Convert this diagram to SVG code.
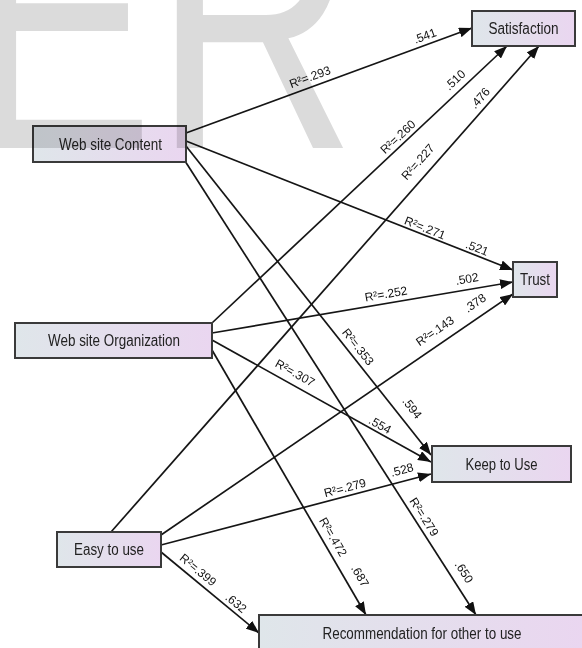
<svg xmlns="http://www.w3.org/2000/svg" width="582" height="648" viewBox="0 0 582 648">
<defs>
<linearGradient id="boxfill" x1="0" y1="0" x2="1" y2="0">
<stop offset="0" stop-color="#dfe6ea"/>
<stop offset="1" stop-color="#ead6f0"/>
</linearGradient>
<marker id="arr" markerUnits="userSpaceOnUse" markerWidth="14" markerHeight="10" refX="13" refY="5" orient="auto">
<path d="M0,0 L13,5 L0,10 z" fill="#111"/>
</marker>
</defs>
<style>
.box{fill:url(#boxfill);stroke:#3a3a3a;stroke-width:2}
.nt{font-family:"Liberation Sans",Arial,sans-serif;font-size:16px;fill:#222;text-anchor:middle}
.edge{stroke:#151515;stroke-width:1.7;fill:none;marker-end:url(#arr)}
.lb{font-family:"Liberation Sans",Arial,sans-serif;font-size:12px;fill:#111;text-anchor:middle}
.wm{font-family:"Liberation Sans",Arial,sans-serif;font-size:370px;fill:#dbdbdb;mix-blend-mode:multiply}
</style>
<rect width="582" height="648" fill="#fff"/>
<g id="connectors">
<line class="edge" x1="186" y1="133" x2="472" y2="28"/>
<line class="edge" x1="186" y1="141" x2="513" y2="270"/>
<line class="edge" x1="186" y1="146" x2="431" y2="455"/>
<line class="edge" x1="185" y1="161" x2="476" y2="615"/>
<line class="edge" x1="212" y1="323" x2="507" y2="46"/>
<line class="edge" x1="212" y1="333" x2="513" y2="282"/>
<line class="edge" x1="212" y1="340" x2="431" y2="462"/>
<line class="edge" x1="212" y1="350" x2="366" y2="615"/>
<line class="edge" x1="111" y1="532" x2="539" y2="46"/>
<line class="edge" x1="161" y1="535" x2="513" y2="294"/>
<line class="edge" x1="161" y1="545" x2="431" y2="474"/>
<line class="edge" x1="161" y1="552" x2="259" y2="633"/>
</g>
<g id="edge-labels">
<text class="lb" transform="translate(310,77) rotate(-20.2)" y="4">R²=.293</text>
<text class="lb" transform="translate(425,36) rotate(-20.2)" y="4">.541</text>
<text class="lb" transform="translate(425,228) rotate(21.5)" y="4">R²=.271</text>
<text class="lb" transform="translate(477,248) rotate(21.5)" y="4">.521</text>
<text class="lb" transform="translate(358,347) rotate(51.7)" y="4">R²=.353</text>
<text class="lb" transform="translate(412,408) rotate(51.7)" y="4">.594</text>
<text class="lb" transform="translate(424,517) rotate(57.3)" y="4">R²=.279</text>
<text class="lb" transform="translate(464,572) rotate(57.3)" y="4">.650</text>
<text class="lb" transform="translate(398,137) rotate(-43.1)" y="4">R²=.260</text>
<text class="lb" transform="translate(455,80) rotate(-43.1)" y="4">.510</text>
<text class="lb" transform="translate(386,294) rotate(-9.6)" y="4">R²=.252</text>
<text class="lb" transform="translate(467,279) rotate(-9.6)" y="4">.502</text>
<text class="lb" transform="translate(295,373) rotate(29.2)" y="4">R²=.307</text>
<text class="lb" transform="translate(380,425) rotate(29.2)" y="4">.554</text>
<text class="lb" transform="translate(333,537) rotate(59.8)" y="4">R²=.472</text>
<text class="lb" transform="translate(360,576) rotate(59.8)" y="4">.687</text>
<text class="lb" transform="translate(418,162) rotate(-48.6)" y="4">R²=.227</text>
<text class="lb" transform="translate(480,98) rotate(-48.6)" y="4">.476</text>
<text class="lb" transform="translate(435,331) rotate(-34.4)" y="4">R²=.143</text>
<text class="lb" transform="translate(475,303) rotate(-34.4)" y="4">.378</text>
<text class="lb" transform="translate(345,488) rotate(-14.8)" y="4">R²=.279</text>
<text class="lb" transform="translate(402,470) rotate(-14.8)" y="4">.528</text>
<text class="lb" transform="translate(198,570) rotate(39.6)" y="4">R²=.399</text>
<text class="lb" transform="translate(236,603) rotate(39.6)" y="4">.632</text>
</g>
<g id="satisfaction">
<rect class="box" x="472" y="11" width="103" height="35"/>
<text class="nt" x="523.5" y="34" textLength="70" lengthAdjust="spacingAndGlyphs">Satisfaction</text>
</g>
<g id="web-site-content">
<rect class="box" x="33" y="126" width="153" height="36"/>
<text class="nt" x="110.5" y="150" textLength="103" lengthAdjust="spacingAndGlyphs">Web site Content</text>
</g>
<g id="trust">
<rect class="box" x="513" y="262" width="44" height="35"/>
<text class="nt" x="535" y="285" textLength="30" lengthAdjust="spacingAndGlyphs">Trust</text>
</g>
<g id="web-site-organization">
<rect class="box" x="15" y="323" width="197" height="35"/>
<text class="nt" x="114" y="346" textLength="132" lengthAdjust="spacingAndGlyphs">Web site Organization</text>
</g>
<g id="keep-to-use">
<rect class="box" x="432" y="446" width="139" height="36"/>
<text class="nt" x="501.5" y="470" textLength="72" lengthAdjust="spacingAndGlyphs">Keep to Use</text>
</g>
<g id="easy-to-use">
<rect class="box" x="57" y="532" width="104" height="35"/>
<text class="nt" x="109" y="555" textLength="70" lengthAdjust="spacingAndGlyphs">Easy to use</text>
</g>
<g id="recommendation">
<rect class="box" x="259" y="615" width="326" height="36"/>
<text class="nt" x="422" y="639" textLength="199" lengthAdjust="spacingAndGlyphs">Recommendation for other to use</text>
</g>
<text class="wm" x="-43.6" y="148" transform="scale(0.757,1)">ER</text>
</svg>
